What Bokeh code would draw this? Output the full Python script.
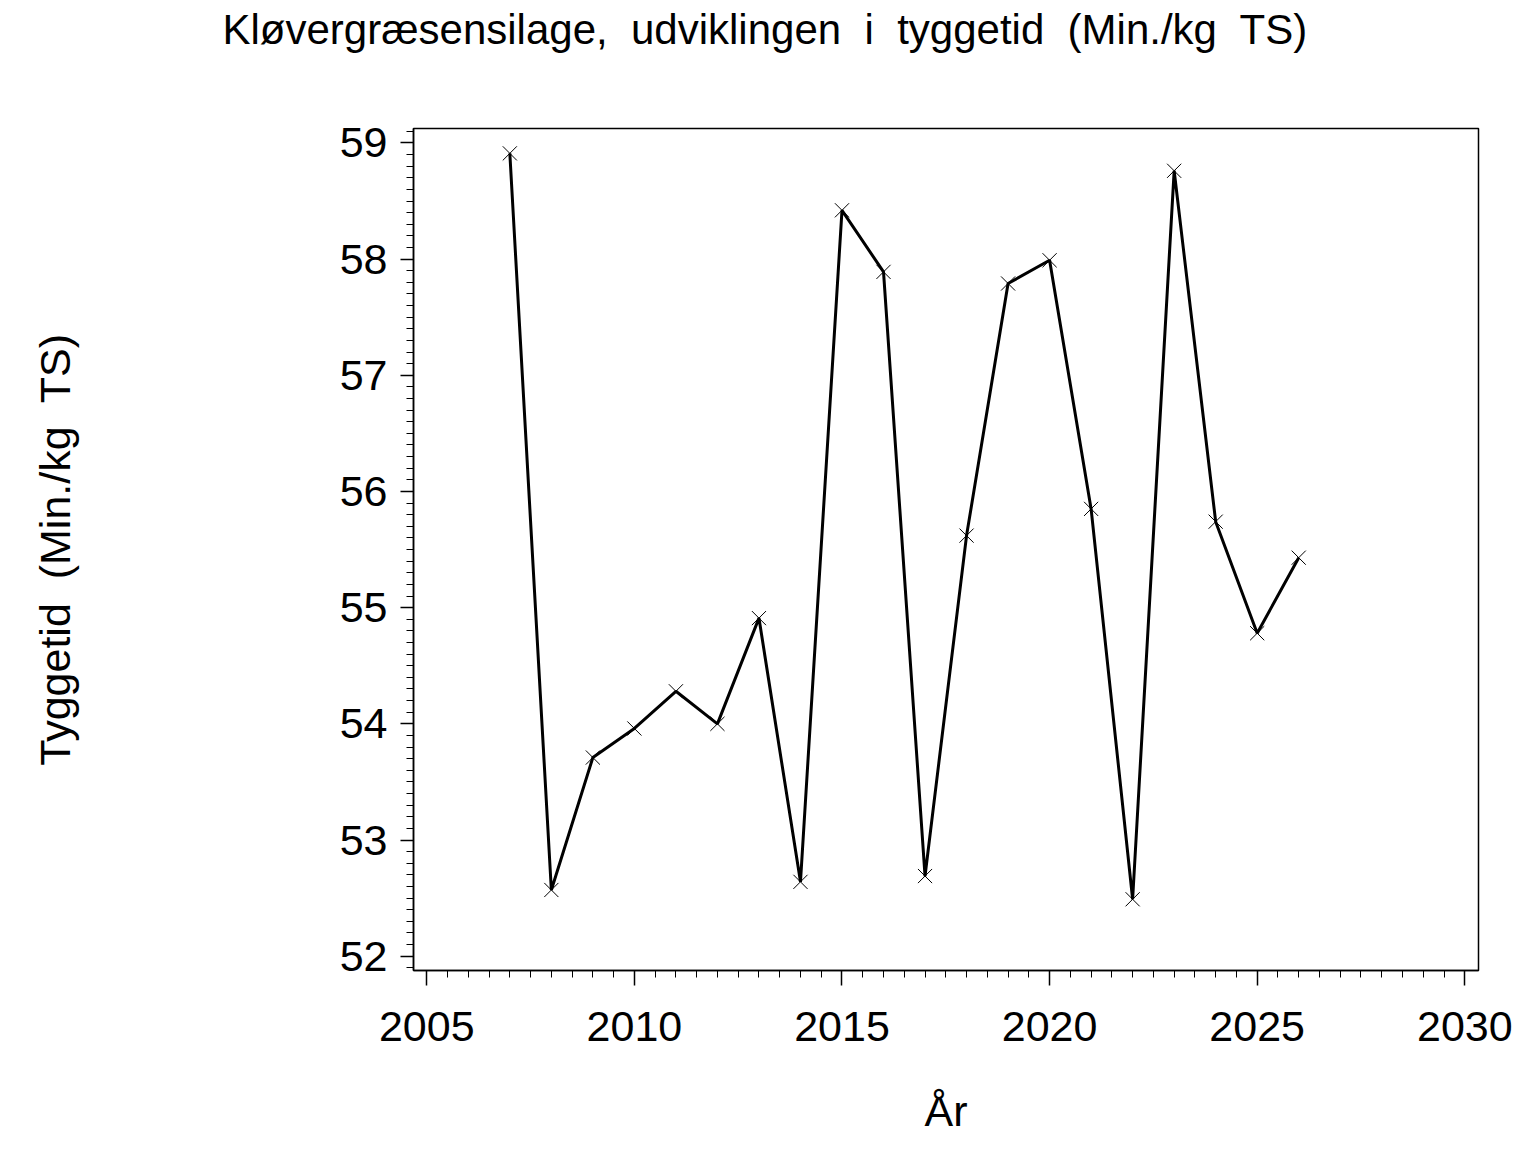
from bokeh.plotting import figure
from bokeh.models import Range1d, SingleIntervalTicker, Title
from bokeh.embed import file_html
from bokeh.resources import INLINE

years = [2007, 2008, 2009, 2010, 2011, 2012, 2013, 2014, 2015, 2016,
         2017, 2018, 2019, 2020, 2021, 2022, 2023, 2024, 2025, 2026]
tyggetid = [58.91, 52.57, 53.71, 53.96, 54.28, 54.00, 54.91, 52.64, 58.42, 57.89,
            52.69, 55.62, 57.79, 57.99, 55.85, 52.49, 58.76, 55.74, 54.78, 55.43]

NB = "\u00a0"
title_text = f"Kløvergræsensilage,{NB} udviklingen{NB} i{NB} tyggetid{NB} (Min./kg{NB} TS)"
x_label = "År"
y_label = f"Tyggetid{NB} (Min./kg{NB} TS)"

FONT = "Liberation Sans"

p = figure(width=1530, height=1146, output_backend="svg", toolbar_location=None,
           x_range=Range1d(2004.68, 2030.33), y_range=Range1d(51.877, 59.124),
           min_border_left=413, min_border_right=52, min_border_top=128,
           min_border_bottom=176)
p.title = None

# spacer (nearest the frame) pushes the real title up toward the top edge
spacer = Title(text=NB, text_font=FONT, text_font_size="10px", text_color="white",
               standoff=63, align="left")
p.add_layout(spacer, "above")
main_title = Title(text=title_text, align="left", offset=-191,
                   text_font=FONT, text_font_size="42px", text_font_style="normal",
                   text_color="black", vertical_align="bottom", standoff=0)
p.add_layout(main_title, "above")

p.line(years, tyggetid, line_color="black", line_width=3)
p.scatter(years, tyggetid, marker="x", size=20, line_color="black", line_width=1)

p.xgrid.visible = False
p.ygrid.visible = False
p.outline_line_color = "black"
p.outline_line_width = 1.5
p.background_fill_color = "white"
p.border_fill_color = "white"

p.xaxis.ticker = SingleIntervalTicker(interval=5, num_minor_ticks=10)
p.yaxis.ticker = SingleIntervalTicker(interval=1, num_minor_ticks=10)

for ax in (p.xaxis[0], p.yaxis[0]):
    ax.axis_line_color = "black"
    ax.axis_line_width = 1.5
    ax.major_tick_in = 0
    ax.minor_tick_in = 0
    ax.major_tick_line_color = "black"
    ax.minor_tick_line_color = "black"
    ax.major_tick_line_width = 1.5
    ax.minor_tick_line_width = 1
    ax.major_label_text_font = FONT
    ax.major_label_text_font_size = "43px"
    ax.major_label_text_color = "black"
    ax.axis_label_text_font = FONT
    ax.axis_label_text_font_size = "43px"
    ax.axis_label_text_font_style = "normal"
    ax.axis_label_text_color = "black"

p.xaxis.major_tick_out = 15
p.xaxis.minor_tick_out = 7
p.yaxis.major_tick_out = 13
p.yaxis.minor_tick_out = 7
p.xaxis.major_label_standoff = 26
p.yaxis.major_label_standoff = 13
p.xaxis.axis_label = x_label
p.yaxis.axis_label = y_label
p.xaxis.axis_label_standoff = 43
p.yaxis.axis_label_standoff = 258

open("out.html", "w").write(file_html(p, INLINE))
